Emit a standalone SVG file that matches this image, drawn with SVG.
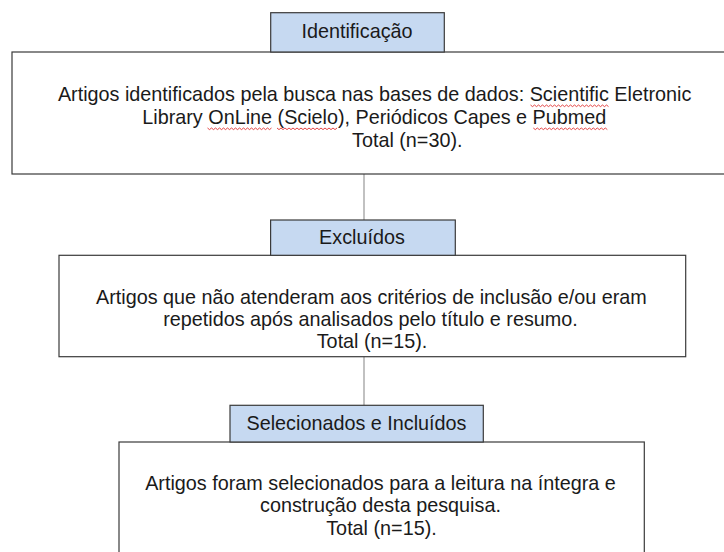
<svg xmlns="http://www.w3.org/2000/svg" width="724" height="552" viewBox="0 0 724 552">
  <style>
    .box { fill: #ffffff; stroke: #3a3a3a; stroke-width: 1.2; }
    .tab { fill: #c6d9f1; stroke: #3a3a3a; stroke-width: 1.2; }
    .txt { font-family: "Liberation Sans", Arial, sans-serif; font-size: 19.8px; fill: #1a1a1a; }
    .mid { text-anchor: middle; }
    .conn { stroke: #a0a0a0; stroke-width: 1.3; fill: none; }
    .spell { stroke: #e03030; stroke-width: 0.9; fill: none; }
  </style>
  <rect width="724" height="552" fill="#ffffff"/>

  <g id="connectors">
    <line class="conn" x1="364" y1="174" x2="364" y2="220"/>
    <line class="conn" x1="364" y1="356.7" x2="364" y2="405.3"/>
  </g>

  <g id="box-identificados">
    <rect class="box" x="12" y="52" width="730" height="122"/>
    <text class="txt mid" x="374.6" y="100.7">Artigos identificados pela busca nas bases de dados: Scientific Eletronic</text>
    <text class="txt mid" x="374.3" y="123.8">Library OnLine (Scielo), Periódicos Capes e Pubmed</text>
    <text class="txt" x="352" y="146.8">Total (n=30).</text>
    <path class="spell" d="M530.5 105 l2 1.6 l2 -1.6 l2 1.6 l2 -1.6 l2 1.6 l2 -1.6 l2 1.6 l2 -1.6 l2 1.6 l2 -1.6 l2 1.6 l2 -1.6 l2 1.6 l2 -1.6 l2 1.6 l2 -1.6 l2 1.6 l2 -1.6 l2 1.6 l2 -1.6 l2 1.6 l2 -1.6 l2 1.6 l2 -1.6 l2 1.6 l2 -1.6 l2 1.6 l2 -1.6 l2 1.6 l2 -1.6 l2 1.6 l2 -1.6 l2 1.6 l2 -1.6 l2 1.6 l2 -1.6 l2 1.6 l2 -1.6 l2 1.6"/>
    <path class="spell" d="M207.5 128 l2 1.6 l2 -1.6 l2 1.6 l2 -1.6 l2 1.6 l2 -1.6 l2 1.6 l2 -1.6 l2 1.6 l2 -1.6 l2 1.6 l2 -1.6 l2 1.6 l2 -1.6 l2 1.6 l2 -1.6 l2 1.6 l2 -1.6 l2 1.6 l2 -1.6 l2 1.6 l2 -1.6 l2 1.6 l2 -1.6 l2 1.6 l2 -1.6 l2 1.6 l2 -1.6 l2 1.6 l2 -1.6 l2 1.6 l2 -1.6"/>
    <path class="spell" d="M277 128 l2 1.6 l2 -1.6 l2 1.6 l2 -1.6 l2 1.6 l2 -1.6 l2 1.6 l2 -1.6 l2 1.6 l2 -1.6 l2 1.6 l2 -1.6 l2 1.6 l2 -1.6 l2 1.6 l2 -1.6 l2 1.6 l2 -1.6 l2 1.6 l2 -1.6 l2 1.6 l2 -1.6 l2 1.6 l2 -1.6 l2 1.6 l2 -1.6 l2 1.6 l2 -1.6 l2 1.6 l2 -1.6"/>
    <path class="spell" d="M533.3 128 l2 1.6 l2 -1.6 l2 1.6 l2 -1.6 l2 1.6 l2 -1.6 l2 1.6 l2 -1.6 l2 1.6 l2 -1.6 l2 1.6 l2 -1.6 l2 1.6 l2 -1.6 l2 1.6 l2 -1.6 l2 1.6 l2 -1.6 l2 1.6 l2 -1.6 l2 1.6 l2 -1.6 l2 1.6 l2 -1.6 l2 1.6 l2 -1.6 l2 1.6 l2 -1.6 l2 1.6 l2 -1.6 l2 1.6 l2 -1.6 l2 1.6 l2 -1.6 l2 1.6 l2 -1.6 l2 1.6"/>
  </g>

  <g id="tab-identificacao">
    <rect class="tab" x="270.7" y="12.7" width="173.6" height="39.3"/>
    <text class="txt mid" x="357" y="37.6">Identificação</text>
  </g>

  <g id="box-excluidos">
    <rect class="box" x="59" y="255.3" width="626.7" height="101.4"/>
    <text class="txt mid" x="371.4" y="304.2">Artigos que não atenderam aos critérios de inclusão e/ou eram</text>
    <text class="txt mid" x="370.5" y="326.2">repetidos após analisados pelo título e resumo.</text>
    <text class="txt mid" x="372" y="348.4">Total (n=15).</text>
  </g>

  <g id="tab-excluidos">
    <rect class="tab" x="270.6" y="220" width="184.7" height="35.3"/>
    <text class="txt mid" x="362" y="243.8">Excluídos</text>
  </g>

  <g id="box-incluidos">
    <rect class="box" x="119" y="442" width="525.3" height="125"/>
    <text class="txt mid" x="380.5" y="489.5">Artigos foram selecionados para a leitura na íntegra e</text>
    <text class="txt mid" x="380.5" y="512">construção desta pesquisa.</text>
    <text class="txt mid" x="381.5" y="534.5">Total (n=15).</text>
  </g>

  <g id="tab-selecionados">
    <rect class="tab" x="230" y="405.3" width="253.3" height="36.7"/>
    <text class="txt mid" x="356.5" y="430.2">Selecionados e Incluídos</text>
  </g>
</svg>
